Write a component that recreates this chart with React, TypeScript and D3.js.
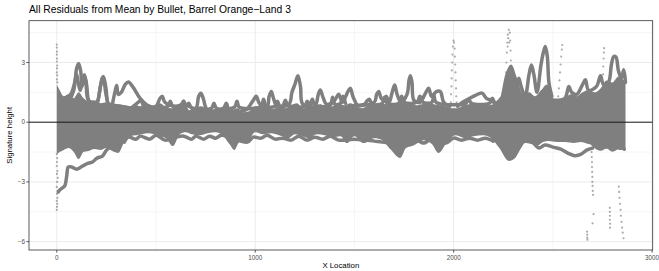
import * as d3 from "d3";

const width = 659;
const height = 271;

// x / y ticks
const xMajor = [0, 1000, 2000, 3000];
const xMinor = [500, 1500, 2500];
const yMajor = [-6, -3, 0, 3];
const yMinor = [-4.5, -1.5, 1.5, 4.5];

// solid core of the residuals, upper edge
const coreTopX = [0, 15, 35, 60, 85, 110, 135, 160, 190, 220, 250, 280, 310, 340, 370, 400, 430, 460, 490, 520, 550, 580, 610, 640, 670, 700, 730, 760, 790, 820, 850, 880, 910, 940, 970, 1000,
  1030, 1060, 1090, 1120, 1150, 1180, 1210, 1240, 1270, 1300, 1330, 1360, 1390, 1420, 1450, 1480, 1510, 1540, 1570, 1600, 1630, 1660, 1690, 1720, 1750, 1780, 1810, 1840, 1870, 1900, 1930, 1960, 1990, 2020, 2050, 2080, 2110, 2140, 2170, 2200, 2230, 2260, 2290, 2320, 2350, 2380, 2410, 2440, 2470, 2500, 2530, 2560, 2590, 2620, 2650, 2680, 2710, 2740, 2770, 2800, 2830, 2866];
const coreTopY = [1.9, 1.6, 1.3, 1.4, 1.2, 1.5, 1.2, 1.05, 1.1, 0.95, 1.0, 0.95, 0.9, 0.85, 0.8, 0.85, 0.75, 0.9, 0.8, 0.95, 0.75, 0.7, 0.8, 0.95, 0.6, 0.75, 0.8, 0.6, 0.55, 0.7, 0.75, 0.6, 0.7, 0.5, 0.55, 0.75,
  0.7, 0.8, 0.65, 0.8, 0.7, 0.85, 0.95, 0.7, 0.75, 0.8, 0.9, 0.75, 0.8, 0.9, 0.85, 0.95, 0.8, 0.7, 0.85, 0.9, 0.95, 0.9, 0.95, 0.85, 1.0, 1.0, 0.85, 0.9, 0.95, 0.9, 0.85, 0.8, 0.7, 0.7, 0.85, 0.9, 0.95, 0.9, 0.85, 0.9, 1.1, 2.4, 2.9, 2.2, 1.4, 1.5, 1.3, 1.6, 1.9, 1.2, 1.1, 1.2, 1.4, 1.3, 1.5, 1.6, 1.5, 1.7, 2.1, 2.0, 2.3, 2.0];

// solid core, lower edge
const coreBotX = [0, 15, 35, 60, 85, 110, 135, 160, 190, 220, 250, 280, 310, 340, 370, 400, 430, 460, 490, 520, 550, 585, 620, 650, 680, 720, 760, 800, 840, 870, 895, 920, 960, 1000,
  1040, 1080, 1120, 1166, 1200, 1240, 1270, 1310, 1350, 1390, 1430, 1462, 1500, 1546, 1600, 1640, 1680, 1731, 1760, 1790, 1850, 1890, 1924, 1970, 2010, 2059, 2100, 2150, 2190, 2230, 2278, 2310, 2340, 2360, 2390, 2420, 2450, 2480, 2520, 2563, 2605, 2640, 2680, 2720, 2760, 2800, 2840, 2866];
const coreBotY = [-1.6, -1.5, -1.4, -1.3, -1.5, -1.85, -1.5, -1.45, -1.35, -1.4, -1.3, -1.45, -1.55, -1.0, -0.7, -0.65, -0.6, -0.55, -0.6, -0.7, -0.8, -1.2, -0.6, -0.5, -0.6, -0.65, -0.55, -0.5, -0.7, -1.1, -1.4, -1.0, -0.95, -0.5,
  -0.6, -0.55, -0.65, -0.8, -0.6, -0.7, -0.8, -0.6, -0.65, -0.75, -0.7, -1.05, -0.7, -1.05, -0.8, -0.9, -1.35, -1.8, -1.3, -1.2, -0.9, -1.1, -1.55, -0.95, -0.65, -0.8, -0.7, -0.65, -0.8, -1.3, -1.95, -1.8, -1.3, -1.05, -1.1, -1.2, -1.0, -0.95, -1.0, -1.0, -1.05, -1.0, -1.1, -1.2, -1.35, -1.3, -1.4, -1.3];

// single signatures sticking out of the core
const traceA = [[20, 1.2], [60, 1.1], [85, 1.6], [100, 2.7], [110, 2.95], [120, 2.6], [128, 1.8], [138, 2.3], [146, 2.1], [160, 1.1], [200, 1.0], [222, 1.9], [236, 2.25], [248, 1.7], [262, 0.9], [320, 0.8], [380, 0.7], [450, 0.75], [500, 0.8], [520, 1.2], [532, 1.3], [545, 1.0], [600, 0.8], [640, 0.9], [700, 0.7], [715, 1.3], [726, 1.45], [738, 1.2], [760, 0.6], [840, 0.7], [854, 0.95], [870, 0.6], [950, 0.6], [990, 1.1], [1005, 1.3], [1018, 1.0], [1040, 0.7]];
const traceB = [[280, 0.9], [295, 1.6], [302, 1.85], [310, 1.4], [325, 1.5], [345, 1.9], [361, 2.02], [385, 1.75], [420, 1.2], [454, 0.87], [480, 0.75]];
const traceC = [[40, 1.2], [70, 1.4], [88, 1.9], [100, 2.4], [108, 2.0], [118, 1.6], [128, 2.0], [139, 2.38], [150, 1.9], [165, 1.0], [200, 0.9], [215, 1.5], [228, 2.2], [235, 2.29], [245, 1.6], [258, 0.9]];
const traceD = [[1000, 0.7], [1060, 0.8], [1070, 1.3], [1081, 1.54], [1092, 1.2], [1110, 0.8], [1170, 0.9], [1185, 1.5], [1200, 1.9], [1215, 2.34], [1228, 1.8], [1240, 0.9], [1300, 0.8], [1318, 1.4], [1328, 1.62], [1340, 1.3], [1360, 0.9], [1400, 1.1], [1420, 1.4], [1440, 1.0], [1465, 1.5], [1479, 1.71], [1492, 1.3], [1510, 0.9]];
const traceE = [[1500, 0.8], [1600, 1.0], [1612, 1.4], [1622, 1.54], [1635, 1.2], [1650, 1.1], [1660, 1.3], [1675, 1.0], [1690, 1.5], [1703, 1.87], [1715, 1.4], [1735, 1.0], [1765, 1.4], [1775, 2.1], [1782, 2.34], [1790, 2.0], [1800, 1.1], [1830, 1.0], [1860, 1.5], [1874, 1.71], [1888, 1.3], [1900, 1.4], [1915, 1.55], [1933, 1.54], [1950, 1.0], [1980, 0.8]];
const traceF = [[2020, 0.8], [2045, 1.0], [2080, 1.2], [2110, 1.35], [2143, 1.46], [2165, 1.2], [2190, 1.1], [2210, 0.9]];
const traceG = [[2300, 1.2], [2315, 1.8], [2328, 2.21], [2340, 1.8], [2360, 1.3], [2380, 2.4], [2392, 2.88], [2404, 2.4], [2420, 1.5], [2440, 2.88], [2452, 3.5], [2462, 3.8], [2472, 3.3], [2480, 2.0], [2495, 1.3]];
const traceH = [[2500, 1.1], [2560, 1.2], [2580, 1.79], [2595, 1.5], [2620, 1.4], [2650, 1.9], [2664, 2.13], [2680, 1.6], [2720, 1.8], [2740, 2.33], [2755, 1.9], [2780, 2.0], [2795, 2.9], [2807, 3.3], [2818, 3.27], [2830, 2.6], [2845, 2.2], [2857, 2.63], [2866, 2.0]];
const traceI = [[380, 0.75], [410, 1.0], [425, 1.1], [440, 0.8], [560, 0.8], [572, 1.05], [585, 0.8], [625, 0.85], [639, 1.07], [652, 0.8], [665, 0.95], [680, 0.7], [780, 0.7], [792, 0.95], [805, 0.7], [895, 0.75], [908, 1.05], [920, 0.75], [1030, 0.8], [1042, 1.15], [1055, 0.8], [1100, 0.8], [1112, 1.05], [1125, 0.8], [1140, 0.85], [1152, 1.1], [1165, 0.85], [1250, 0.8], [1262, 1.05], [1275, 0.85], [1288, 1.15], [1300, 0.85], [1378, 0.85], [1390, 1.25], [1402, 0.9], [1430, 0.95], [1442, 1.3], [1455, 0.95]];
const traceJ = [[1500, 0.85], [1550, 0.9], [1562, 1.05], [1575, 1.15], [1590, 0.9], [1640, 0.95], [1652, 1.25], [1665, 0.95], [1725, 0.95], [1738, 1.3], [1750, 1.0], [1815, 1.0], [1830, 1.3], [1845, 1.0], [1890, 1.0], [1900, 1.35], [1912, 1.0], [2060, 0.95], [2075, 1.15], [2090, 0.95], [2180, 0.95], [2195, 1.2], [2210, 0.95], [2240, 1.2]];
const traceK = [[340, -1.0], [360, -0.75], [400, -0.85], [420, -0.7], [470, -0.85], [500, -0.65], [545, -0.9], [600, -0.75], [640, -0.7], [680, -0.85], [700, -0.7], [740, -0.85], [770, -0.7], [800, -0.8], [830, -0.65], [960, -1.0], [990, -0.75], [1030, -0.8], [1060, -0.65], [1100, -0.85], [1140, -0.8], [1180, -0.9], [1220, -0.7], [1260, -0.9], [1300, -0.75], [1340, -0.85], [1380, -0.7], [1420, -0.9], [1500, -0.85], [1600, -0.95], [1640, -1.0], [1780, -1.1], [1820, -0.95], [1850, -1.05], [1880, -0.9], [1960, -1.05], [2000, -0.8], [2040, -0.9], [2080, -0.8], [2120, -0.9], [2160, -0.8], [2200, -0.95]];
const traceL1 = [[8, -3.5], [15, -3.4], [25, -3.32], [40, -3.2], [50, -2.7], [58, -2.25], [75, -2.25], [101, -2.36], [130, -2.2], [159, -2.06], [180, -2.0], [202, -1.81], [230, -1.7], [252, -1.39], [290, -1.1], [330, -0.9]];
const traceL2 = [[2400, -1.0], [2430, -1.3], [2460, -1.15], [2500, -1.25], [2540, -1.35], [2575, -1.55], [2610, -1.68], [2640, -1.62], [2670, -1.4], [2700, -1.3]];
const traceL3 = [[2700, -1.1], [2740, -1.35], [2770, -1.2], [2800, -1.4], [2830, -1.25], [2860, -1.35]];
const traces = [traceA, traceB, traceC, traceD, traceE, traceF, traceG, traceH, traceI, traceJ, traceK, traceL1, traceL2, traceL3];

// sparse single points
const dotsLeft = [[0, 3.9], [0, 3.75], [1, 3.55], [0, 3.4], [1, 3.2], [0, 3.05], [2, 2.85], [1, 2.7], [0, 2.5], [2, 2.35], [1, 2.15], [3, 2.0], [0, -1.6], [2, -1.8], [1, -2.0], [0, -2.2], [3, -2.45], [1, -2.6], [5, -2.8], [2, -3.0], [0, -3.25], [4, -3.45], [1, -3.6], [3, -3.8], [0, -3.95], [2, -4.1], [1, -4.25], [0, -4.4]];
const dotsSpike2000 = [[1986, 1.0], [1987, 1.4], [1989, 1.8], [1990, 2.2], [1991, 2.6], [1993, 3.0], [1994, 3.4], [1996, 3.8], [1999, 4.1], [2002, 4.0], [2005, 3.7], [2006, 3.3], [2008, 2.9], [2009, 2.5], [2010, 2.1], [2012, 1.7], [2013, 1.3], [2015, 1.0]];
const dotsSpike2280 = [[2262, 2.0], [2264, 2.5], [2266, 3.0], [2268, 3.5], [2270, 4.0], [2273, 4.4], [2278, 4.64], [2283, 4.5], [2285, 4.1], [2287, 3.6], [2288, 3.1], [2290, 2.6], [2292, 2.2], [2272, 3.8], [2275, 4.22], [2280, 4.0]];
const dotsSpike2547 = [[2527, 1.3], [2530, 1.7], [2533, 2.1], [2536, 2.5], [2539, 2.9], [2542, 3.3], [2545, 3.65], [2547, 3.88]];
const dotsSpike2757 = [[2750, 1.6], [2752, 2.0], [2753, 2.4], [2754, 2.8], [2756, 3.2], [2757, 3.5], [2758, 3.72]];
const dotsLowRight = [[2695, -1.5], [2696, -1.75], [2697, -2.0], [2697, -2.25], [2698, -2.5], [2699, -2.75], [2699, -3.0], [2700, -3.2], [2701, -3.45], [2702, -3.65], [2705, -4.62], [2700, -5.08], [2672, -5.5], [2673, -5.65], [2673, -5.8], [2674, -5.9], [2787, -4.3], [2787, -4.5], [2787, -4.7], [2787, -4.9], [2788, -5.1], [2788, -5.3], [2832, -3.24], [2834, -3.5], [2836, -3.8], [2838, -4.1], [2841, -4.4], [2843, -4.7], [2846, -5.0], [2849, -5.3], [2852, -5.55], [2856, -5.83]];
const dots = [...dotsLeft, ...dotsSpike2000, ...dotsSpike2280, ...dotsSpike2547, ...dotsSpike2757, ...dotsLowRight];

const left = 29;
const right = 652.7;
const top = 20.7;
const bottom = 250;

const grey = "#7f7f7f";
const font = "'Liberation Sans', Arial, sans-serif";

function App() {
  const x = d3.scaleLinear().domain([-140, 3003]).range([left, right]);
  const y = d3.scaleLinear().domain([-6.42, 5.1]).range([bottom, top]);

  const topArea = d3.area<number>()
    .x((d, i) => x(coreTopX[i]))
    .y0(y(0))
    .y1((d) => y(d))
    .curve(d3.curveMonotoneX);
  const botArea = d3.area<number>()
    .x((d, i) => x(coreBotX[i]))
    .y0(y(0))
    .y1((d) => y(d))
    .curve(d3.curveMonotoneX);
  const line = d3.line<number[]>()
    .x((d) => x(d[0]))
    .y((d) => y(d[1]))
    .curve(d3.curveCatmullRom.alpha(0.5));

  return (
    <svg width={width} height={height} style={{ position: "absolute", left: 0, top: 0, background: "#fff" }}>
      <defs>
        <clipPath id="panel">
          <rect x={left} y={top} width={right - left} height={bottom - top} />
        </clipPath>
      </defs>
      <rect x={0} y={0} width={width} height={height} fill="#fff" />

      {/* grid */}
      {xMinor.map((v) => (
        <line key={"xm" + v} x1={x(v)} x2={x(v)} y1={top} y2={bottom} stroke="#ebebeb" strokeWidth={0.5} />
      ))}
      {yMinor.map((v) => (
        <line key={"ym" + v} x1={left} x2={right} y1={y(v)} y2={y(v)} stroke="#ebebeb" strokeWidth={0.5} />
      ))}
      {xMajor.map((v) => (
        <line key={"xM" + v} x1={x(v)} x2={x(v)} y1={top} y2={bottom} stroke="#ebebeb" strokeWidth={1} />
      ))}
      {yMajor.map((v) => (
        <line key={"yM" + v} x1={left} x2={right} y1={y(v)} y2={y(v)} stroke="#ebebeb" strokeWidth={1} />
      ))}

      <g clipPath="url(#panel)">
        <path d={topArea(coreTopY) || ""} fill={grey} />
        <path d={botArea(coreBotY) || ""} fill={grey} />
        {traces.map((t, i) => (
          <path key={"t" + i} d={line(t) || ""} fill="none" stroke={grey} strokeWidth={3.5}
            strokeLinejoin="round" strokeLinecap="round" />
        ))}
        {dots.map((d, i) => (
          <circle key={"d" + i} cx={x(d[0])} cy={y(d[1])} r={1.1} fill={grey} fillOpacity={0.65} />
        ))}
        <line x1={left} x2={right} y1={y(0)} y2={y(0)} stroke="#000" strokeWidth={0.9} />
      </g>

      {/* panel border */}
      <rect x={left} y={top} width={right - left} height={bottom - top} fill="none" stroke="#333" strokeWidth={0.8} />

      {/* axes */}
      {xMajor.map((v) => (
        <g key={"xt" + v}>
          <line x1={x(v)} x2={x(v)} y1={bottom} y2={bottom + 2.7} stroke="#333" strokeWidth={0.8} />
          <text x={x(v)} y={bottom + 9.5} textAnchor="middle" fontSize={6.3} fill="#4d4d4d" fontFamily={font}>{v}</text>
        </g>
      ))}
      {yMajor.map((v) => (
        <g key={"yt" + v}>
          <line x1={left - 2.7} x2={left} y1={y(v)} y2={y(v)} stroke="#333" strokeWidth={0.8} />
          <text x={left - 4} y={y(v) + 2.2} textAnchor="end" fontSize={6.3} fill="#4d4d4d" fontFamily={font}>{v < 0 ? "\u2212" + Math.abs(v) : v}</text>
        </g>
      ))}

      <text x={(left + right) / 2} y={268} textAnchor="middle" fontSize={7.8} fill="#000" fontFamily={font}>X Location</text>
      <text transform={`translate(12,${(top + bottom) / 2}) rotate(-90)`} textAnchor="middle" fontSize={7.8} fill="#000" fontFamily={font}>Signature height</text>
      <text x={left} y={13.3} fontSize={10.3} fill="#000" fontFamily={font}>All Residuals from Mean by Bullet, Barrel Orange{"\u2212"}Land 3</text>
    </svg>
  );
}

export default App;
